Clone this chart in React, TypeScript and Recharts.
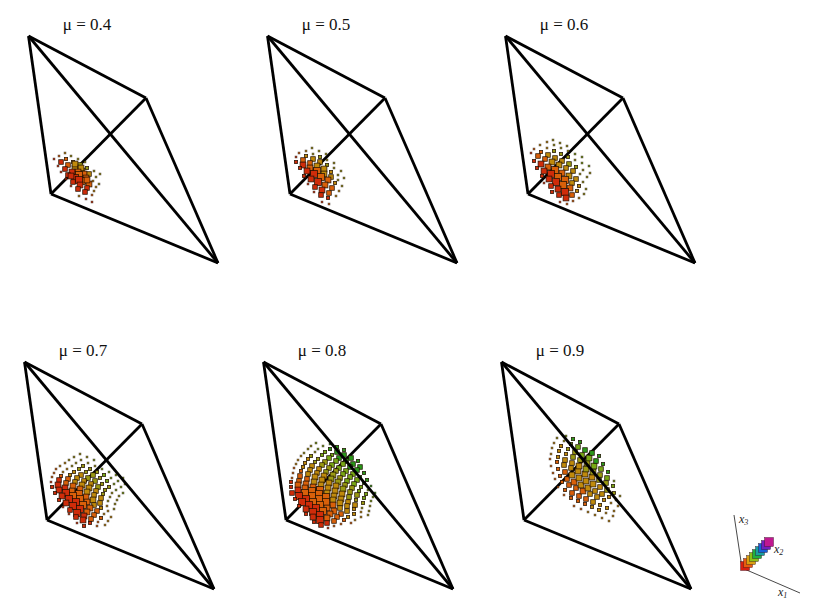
import React from "react";
import { ScatterChart, Scatter, XAxis, YAxis, ReferenceDot } from "recharts";

type Pt = [number, number, number, number]; // x, y, magnitude (1-5), hue bin (0-5)

const titles = ["μ = 0.4", "μ = 0.5", "μ = 0.6", "μ = 0.7", "μ = 0.8", "μ = 0.9"];
const corners = { a: [-22.5, 158], b: [95, 96], c: [167, -69], d: [0, 0] };
const hueBins = ["#cf2c0a", "#d9600a", "#c08a0c", "#9a9a12", "#78a814", "#2a9a1a"];
const legendHues = ["#d81e10", "#e85a10", "#d8a010", "#8cc018", "#20b040", "#18a0a0", "#1860d8", "#7020c0", "#c01890"];
const legendSteps = [0, 1, 2, 3, 4, 5, 6, 7, 8];

const cloud04: Pt[] = [
  [14,41,1,2],[20,38,1,3],[27,35,1,3],[34,32,1,3],
  [8,38,1,1],[15,35,2,1],[22,32,2,2],[29,29,3,3],[36,26,2,3],[43,23,1,3],[49,20,1,3],
  [3,35,1,0],[10,32,3,0],[17,29,3,1],[24,26,4,2],[31,23,4,2],[38,20,3,2],[45,17,1,3],
  [24,30,4,2],[30,26,4,2],[33,20,4,1],[27,22,4,1],
  [7,28,1,0],[14,25,3,0],[21,22,4,0],[28,19,5,1],[35,16,4,1],[42,13,1,2],[48,10,1,3],
  [10,22,1,0],[17,19,3,0],[24,16,5,0],[31,13,5,1],[38,10,4,1],[45,7,1,2],
  [20,18,4,0],[28,14,5,0],[36,14,4,1],
  [15,15,1,0],[22,12,3,0],[29,9,4,0],[36,6,3,0],[43,3,1,2],
  [20,8,1,0],[27,5,3,0],[34,2,3,0],[41,-1,1,1],
  [28,-2,1,2],[35,-5,1,0],[41,-8,1,0],
];

const cloud05: Pt[] = [
  [22,46,1,3],[29,43,1,3],[36,40,1,3],
  [16,43,1,2],[23,40,1,3],[30,37,2,3],[37,34,1,3],[44,31,1,3],
  [9,41,1,1],[16,38,2,2],[23,35,3,2],[30,32,3,2],[37,29,2,3],[44,26,1,3],[51,23,1,3],
  [6,37,1,0],[13,34,3,1],[20,31,3,1],[27,28,4,2],[34,25,4,2],[41,22,2,2],[48,19,1,3],[54,16,1,3],
  [6,32,2,0],[13,29,4,0],[20,26,4,1],[27,23,5,1],[34,20,4,2],[41,17,3,2],[48,14,1,3],
  [10,26,2,0],[17,23,4,0],[24,20,5,0],[31,17,5,1],[38,14,4,1],[45,11,2,2],[52,8,1,3],
  [14,18,2,0],[21,15,4,0],[28,12,5,0],[35,9,4,1],[42,6,3,1],[49,3,1,2],
  [18,10,1,0],[25,7,3,0],[32,4,4,0],[39,1,3,1],[46,-2,1,2],
  [24,2,1,0],[31,-1,3,0],[38,-4,2,0],
  [32,-8,1,0],[39,-10,1,1],
];

const cloud06: Pt[] = [
  [25,54,1,3],[32,51,1,3],[39,48,1,3],
  [19,52,1,2],[26,49,1,3],[33,46,1,3],[40,43,1,3],[47,40,1,4],[54,37,1,4],
  [12,49,1,2],[19,46,1,2],[26,43,2,3],[33,40,2,3],[40,37,2,3],[47,34,1,3],[54,31,1,4],[61,28,1,4],
  [6,45,1,1],[13,42,2,1],[20,39,3,2],[27,36,3,2],[34,33,3,2],[41,30,3,3],[48,27,2,3],[55,24,1,3],[62,21,1,3],
  [3,41,1,0],[10,38,3,1],[17,35,3,1],[24,32,4,2],[31,29,4,2],[38,26,3,2],[45,23,3,2],[52,20,1,3],[59,17,1,3],
  [6,33,2,0],[13,30,4,0],[20,27,4,1],[27,24,5,1],[34,21,4,1],[41,18,4,2],[48,15,3,2],[55,12,1,3],
  [9,26,2,0],[16,23,4,0],[23,20,5,0],[30,17,5,1],[37,14,5,1],[44,11,3,2],[51,8,2,2],[58,5,1,3],
  [14,18,2,0],[21,15,4,0],[28,12,5,0],[35,9,5,1],[42,6,4,1],[49,3,2,2],[56,0,1,3],
  [16,11,1,0],[23,8,3,0],[30,5,4,0],[37,2,5,0],[44,-1,3,1],[51,-4,1,2],
  [24,2,2,0],[31,-1,3,0],[38,-4,4,0],[45,-7,1,1],
  [32,-8,1,0],[39,-10,1,1],
];

const cloud07: Pt[] = [
  [33,66,1,3],[40,63,1,3],[47,60,1,4],
  [27,63,1,3],[34,60,1,3],[41,57,1,3],[48,54,1,3],[55,51,1,4],[62,48,1,4],[69,45,1,4],[76,42,1,4],
  [22,60,1,3],[29,57,1,3],[36,54,2,3],[43,51,2,3],[50,48,2,3],[57,45,2,4],[64,42,1,4],[71,39,1,4],[78,36,1,4],
  [18,57,1,2],[25,54,1,3],[32,51,2,3],[39,48,2,3],[46,45,3,3],[53,42,2,3],[60,39,2,4],[67,36,1,4],[74,33,1,4],
  [13,54,1,2],[20,51,1,2],[27,48,2,2],[34,45,3,2],[41,42,3,3],[48,39,3,3],[55,36,2,3],[62,33,2,3],[69,30,1,4],[76,27,1,4],
  [9,51,1,1],[16,48,1,2],[23,45,2,2],[30,42,3,2],[37,39,3,2],[44,36,3,2],[51,33,3,3],[58,30,2,3],[65,27,1,3],[72,24,1,3],
  [7,47,1,1],[14,44,2,1],[21,41,3,1],[28,38,3,2],[35,35,4,2],[42,32,4,2],[49,29,3,2],[56,26,2,3],[63,23,1,3],[70,20,1,3],
  [5,43,1,1],[12,40,3,0],[19,37,3,1],[26,34,4,1],[33,31,4,1],[40,28,4,2],[47,25,3,2],[54,22,3,2],[61,19,1,3],[68,16,1,3],
  [4,38,1,0],[11,35,4,0],[18,32,4,0],[25,29,4,1],[32,26,5,1],[39,23,4,1],[46,20,4,2],[53,17,3,2],[60,14,1,2],[67,11,1,3],
  [5,33,2,0],[12,30,4,0],[19,27,5,0],[26,24,5,1],[33,21,5,1],[40,18,4,1],[47,15,3,2],[54,12,2,2],[61,9,1,2],
  [8,27,2,0],[15,24,4,0],[22,21,5,0],[29,18,5,0],[36,15,5,1],[43,12,4,1],[50,9,3,1],[57,6,1,2],[64,3,1,2],
  [12,20,2,0],[19,17,4,0],[26,14,5,0],[33,11,5,0],[40,8,4,1],[47,5,3,1],[54,2,2,1],[61,-1,1,2],
  [16,13,1,0],[23,10,3,0],[30,7,5,0],[37,4,4,0],[44,1,3,1],[51,-2,1,1],[58,-5,1,2],
  [22,6,1,0],[29,3,3,0],[36,0,4,0],[43,-3,2,0],[50,-6,1,1],
  [30,-3,1,0],[37,-6,2,0],
];

const cloud08: Pt[] = [
  [44,76,1,5],[51,73,2,5],[58,70,2,5],
  [30,77,1,4],[37,74,1,4],[44,71,2,5],[51,68,3,5],[58,65,3,5],[65,62,3,5],[72,59,2,5],
  [25,74,1,3],[32,71,1,4],[39,68,2,4],[46,65,2,4],[53,62,3,5],[60,59,3,5],[67,56,3,5],[74,53,3,5],
  [22,71,1,3],[29,68,1,3],[36,65,2,4],[43,62,3,4],[50,59,3,4],[57,56,3,4],[64,53,3,5],[71,50,3,5],[78,47,2,5],
  [18,67,1,3],[25,64,2,3],[32,61,2,3],[39,58,3,3],[46,55,3,4],[53,52,3,4],[60,49,3,4],[67,46,3,4],[74,43,2,5],[81,40,2,5],
  [15,64,1,2],[22,61,2,2],[29,58,2,3],[36,55,3,3],[43,52,3,3],[50,49,3,3],[57,46,3,4],[64,43,3,4],[71,40,3,4],[78,37,2,5],[85,34,1,5],
  [12,60,1,2],[19,57,2,2],[26,54,3,2],[33,51,3,2],[40,48,3,3],[47,45,4,3],[54,42,3,3],[61,39,3,4],[68,36,3,4],[75,33,2,4],[82,30,1,4],[89,27,1,5],
  [10,56,1,2],[17,53,2,2],[24,50,3,2],[31,47,3,2],[38,44,4,2],[45,41,4,3],[52,38,4,3],[59,35,3,3],[66,32,3,3],[73,29,2,4],[80,26,2,4],[87,23,1,4],
  [8,52,1,1],[15,49,2,1],[22,46,3,2],[29,43,4,2],[36,40,4,2],[43,37,4,2],[50,34,4,2],[57,31,4,3],[64,28,3,3],[71,25,3,3],[78,22,2,4],[85,19,1,4],
  [7,47,1,1],[14,44,3,1],[21,41,3,1],[28,38,4,2],[35,35,4,2],[42,32,4,2],[49,29,4,2],[56,26,4,2],[63,23,3,3],[70,20,2,3],[77,17,2,3],[84,14,1,3],
  [6,42,1,1],[13,39,3,1],[20,36,4,1],[27,33,4,1],[34,30,5,1],[41,27,4,2],[48,24,4,2],[55,21,4,2],[62,18,3,2],[69,15,3,2],[76,12,1,3],[83,9,1,3],
  [5,38,2,0],[12,35,4,1],[19,32,4,1],[26,29,5,1],[33,26,5,1],[40,23,5,1],[47,20,4,2],[54,17,4,2],[61,14,3,2],[68,11,2,2],[75,8,1,2],[82,5,1,3],
  [5,33,2,0],[12,30,4,0],[19,27,5,1],[26,24,5,1],[33,21,5,1],[40,18,5,1],[47,15,4,1],[54,12,3,2],[61,9,3,2],[68,6,2,2],[75,3,1,2],
  [6,27,3,0],[13,24,5,0],[20,21,5,0],[27,18,5,1],[34,15,5,1],[41,12,4,1],[48,9,4,1],[55,6,3,1],[62,3,2,2],[69,0,1,2],
  [9,21,2,0],[16,18,5,0],[23,15,5,0],[30,12,5,0],[37,9,5,1],[44,6,4,1],[51,3,3,1],[58,0,2,1],[65,-3,1,1],
  [13,14,2,0],[20,11,4,0],[27,8,5,0],[34,5,5,0],[41,2,4,1],[48,-1,3,1],[55,-4,1,1],
  [20,6,2,0],[27,3,4,0],[34,0,5,0],[41,-3,3,0],[48,-6,1,1],
  [28,-2,2,0],[35,-5,3,0],[42,-8,1,0],
];

const cloud09: Pt[] = [
  [50,14,1,1],[57,11,1,1],[64,8,1,2],[71,5,1,2],[78,2,1,2],[85,-1,1,2],
  [40,25,1,1],[47,22,2,1],[54,19,2,1],[61,16,2,1],[68,13,2,2],[75,10,2,2],[82,7,1,2],[89,4,1,2],
  [34,33,1,1],[41,30,2,1],[48,27,3,1],[55,24,3,1],[62,21,3,1],[69,18,3,2],[76,15,2,2],[83,12,2,2],[90,9,1,2],
  [31,41,1,1],[38,38,2,1],[45,35,3,1],[52,32,3,1],[59,29,4,1],[66,26,3,2],[73,23,3,2],[80,20,2,2],[87,17,1,2],[94,14,1,2],
  [29,47,1,1],[36,44,2,1],[43,41,3,1],[50,38,4,1],[57,35,4,2],[64,32,4,2],[71,29,3,2],[78,26,3,2],[85,23,2,2],[92,20,1,3],
  [27,54,1,1],[34,51,2,1],[41,48,3,1],[48,45,4,2],[55,42,4,2],[62,39,4,2],[69,36,4,2],[76,33,3,2],[83,30,3,3],[90,27,2,3],[96,24,1,3],
  [26,61,1,1],[33,58,2,1],[40,55,3,2],[47,52,3,2],[54,49,4,2],[61,46,4,2],[68,43,4,2],[75,40,3,3],[82,37,3,3],[89,34,2,4],
  [27,66,1,2],[34,63,2,2],[41,60,3,2],[48,57,3,2],[55,54,4,2],[62,51,4,3],[69,48,4,3],[76,45,3,3],[83,42,3,4],[90,39,1,4],
  [28,72,1,2],[35,69,2,2],[42,66,2,2],[49,63,3,3],[56,60,3,3],[63,57,4,3],[70,54,4,4],[77,51,3,4],[84,48,2,5],
  [30,77,1,2],[37,74,2,2],[44,71,2,3],[51,68,3,3],[58,65,3,4],[65,62,4,4],[72,59,3,5],[79,56,2,5],
  [33,82,1,3],[40,79,1,3],[47,76,2,4],[54,73,3,4],[61,70,3,5],[68,67,3,5],[75,64,2,5],
  [42,84,1,4],[49,81,2,5],[56,78,2,5],
];

const clouds = [cloud04, cloud05, cloud06, cloud07, cloud08, cloud09];
const panelOrigins = [[51, 194], [290, 194], [528, 194], [47, 520], [286, 520], [524, 520]];
const sideBySize = [0, 1.8, 3.2, 4.6, 5.8, 7];

const seg = (p: number[], q: number[]) => [{ x: p[0], y: p[1] }, { x: q[0], y: q[1] }];
const noDot = () => <g />;

const Cube = (props: any) => {
  const { cx, cy, payload } = props;
  const s = sideBySize[payload.z];
  return (
    <rect
      x={cx - s / 2}
      y={cy - s / 2}
      width={s}
      height={s}
      fill={hueBins[payload.b]}
      stroke="#1e0e00"
      strokeWidth={0.8}
      strokeOpacity={payload.z === 1 ? 0.6 : 0.9}
    />
  );
};

const LegendCube = (props: any) => {
  const { cx, cy, payload } = props;
  return <rect x={cx - 4.5} y={cy - 4.5} width={9} height={9} fill={legendHues[payload.t]} stroke="#301020" strokeWidth={0.4} />;
};

const edge = { stroke: "#000", strokeWidth: 2.8 };

function Panel({ index }: { index: number }) {
  const { a, b, c, d } = corners;
  const [ox, oy] = panelOrigins[index];
  const pts = clouds[index].map(([x, y, z, h]) => ({ x, y, z, b: h }));
  return (
    <div style={{ position: "absolute", left: ox - 40, top: oy - 200 }}>
      <ScatterChart width={240} height={280} margin={{ top: 0, right: 0, bottom: 0, left: 0 }}>
        <XAxis type="number" dataKey="x" domain={[-40, 200]} hide allowDataOverflow />
        <YAxis type="number" dataKey="y" domain={[-80, 200]} hide allowDataOverflow />
        {[seg(d, b), seg(a, d), seg(d, c), seg(a, b), seg(b, c)].map((s, i) => (
          <Scatter key={i} data={s} line={edge} shape={noDot} isAnimationActive={false} />
        ))}
        <Scatter data={pts} shape={Cube} isAnimationActive={false} />
        <Scatter data={seg(a, c)} line={edge} shape={noDot} isAnimationActive={false} />
        <ReferenceDot
          x={36}
          y={170}
          r={0}
          fill="none"
          stroke="none"
          label={{
            value: titles[index],
            position: "center",
            style: { fontFamily: "'Liberation Serif', serif", fontSize: 17, fill: "#111" },
          }}
        />
      </ScatterChart>
    </div>
  );
}

const legendCubes = legendSteps.map((t) => ({ x: 3 + t * 3, y: 2 + t * 3, t }));
const axisX3 = [{ x: 0, y: 0 }, { x: -8, y: 53 }];
const axisX1 = [{ x: 0, y: 0 }, { x: 58, y: -25 }];
const thin = { stroke: "#333", strokeWidth: 0.9 };
const axisLabels = [
  { name: "x", sub: "3", x: -3, y: 45 },
  { name: "x", sub: "2", x: 32, y: 15 },
  { name: "x", sub: "1", x: 36, y: -28 },
];

const AxisLabel = (props: any) => {
  const { cx, cy, payload } = props;
  return (
    <text x={cx} y={cy} fontFamily="'Liberation Serif', serif" fontStyle="italic" fontSize={12} fill="#222">
      {payload.name}
      <tspan dy={2} fontSize={8}>{payload.sub}</tspan>
    </text>
  );
};

function AxesKey() {
  return (
    <div style={{ position: "absolute", left: 725, top: 505 }}>
      <ScatterChart width={100} height={100} margin={{ top: 0, right: 0, bottom: 0, left: 0 }}>
        <XAxis type="number" dataKey="x" domain={[-17, 83]} hide allowDataOverflow />
        <YAxis type="number" dataKey="y" domain={[-37, 63]} hide allowDataOverflow />
        <Scatter data={axisX3} line={thin} shape={noDot} isAnimationActive={false} />
        <Scatter data={axisX1} line={thin} shape={noDot} isAnimationActive={false} />
        <Scatter data={legendCubes} shape={LegendCube} isAnimationActive={false} />
        <Scatter data={axisLabels} shape={AxisLabel} isAnimationActive={false} />
      </ScatterChart>
    </div>
  );
}

export default function App() {
  return (
    <div style={{ position: "absolute", left: 0, top: 0, width: 830, height: 600, background: "#fff" }}>
      {titles.map((_, i) => (
        <Panel key={i} index={i} />
      ))}
      <AxesKey />
    </div>
  );
}
